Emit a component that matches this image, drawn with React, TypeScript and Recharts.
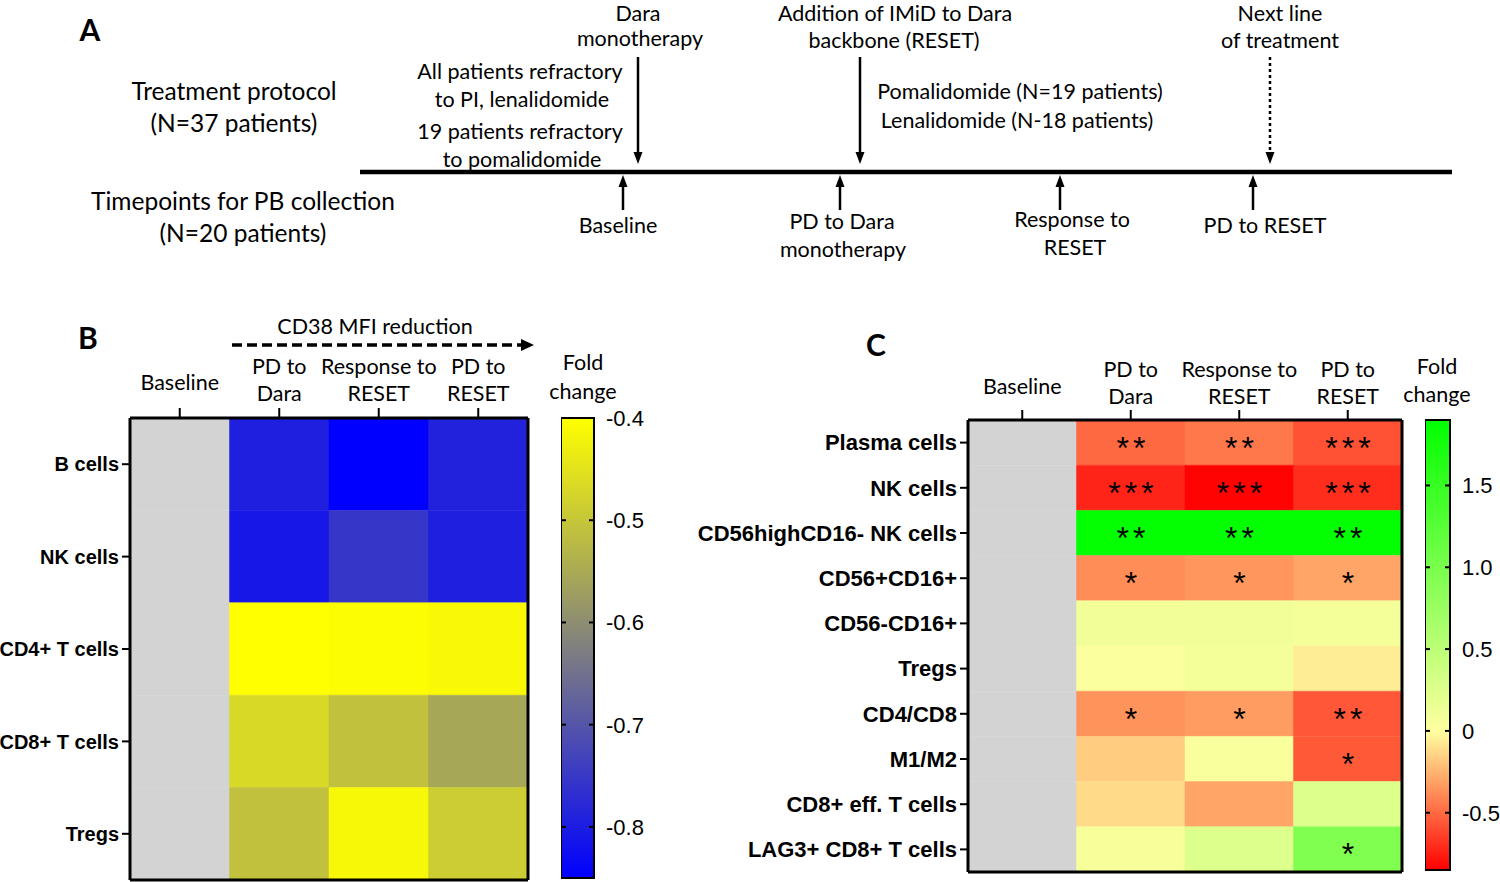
import React from "react";
import {
  Bar,
  BarChart,
  Cell,
  ComposedChart,
  LabelList,
  ReferenceLine,
  Scatter,
  XAxis,
  YAxis,
} from "recharts";

const columns = ["Baseline", "PD to Dara", "Response to RESET", "PD to RESET"];
const columnLines = [["Baseline"], ["PD to", "Dara"], ["Response to", "RESET"], ["PD to", "RESET"]];

// panel B: CD38 MFI fold change (PD to Dara, Response to RESET, PD to RESET)
const rowsB = ["B cells", "NK cells", "CD4+ T cells", "CD8+ T cells", "Tregs"];
const foldB = [
  [-0.795, -0.85, -0.79],
  [-0.81, -0.755, -0.795],
  [-0.4, -0.405, -0.41],
  [-0.468, -0.51, -0.555],
  [-0.51, -0.415, -0.49],
];
const ticksB = [-0.4, -0.5, -0.6, -0.7, -0.8];
const tickLabelsB = ["-0.4", "-0.5", "-0.6", "-0.7", "-0.8"];
const scaleB = [
  { v: -0.4, c: "#ffff00" },
  { v: -0.85, c: "#0000ff" },
];

// panel C: immune subsets fold change
const rowsC = [
  "Plasma cells",
  "NK cells",
  "CD56highCD16- NK cells",
  "CD56+CD16+",
  "CD56-CD16+",
  "Tregs",
  "CD4/CD8",
  "M1/M2",
  "CD8+ eff. T cells",
  "LAG3+ CD8+ T cells",
];
const foldC = [
  [-0.5, -0.45, -0.58],
  [-0.73, -0.84, -0.7],
  [1.88, 1.88, 1.87],
  [-0.38, -0.35, -0.3],
  [0.1, 0.1, 0.08],
  [0.03, 0.08, -0.06],
  [-0.36, -0.33, -0.56],
  [-0.17, 0.05, -0.55],
  [-0.12, -0.3, 0.25],
  [0.07, 0.25, 0.95],
];
const starsC = [
  ["**", "**", "***"],
  ["***", "***", "***"],
  ["**", "**", "**"],
  ["*", "*", "*"],
  ["", "", ""],
  ["", "", ""],
  ["*", "*", "**"],
  ["", "", "*"],
  ["", "", ""],
  ["", "", "*"],
];
const ticksC = [1.5, 1.0, 0.5, 0, -0.5];
const tickLabelsC = ["1.5", "1.0", "0.5", "0", "-0.5"];
const scaleC = [
  { v: 1.9, c: "#00ff00" },
  { v: 0, c: "#ffffa0" },
  { v: -0.85, c: "#ff0000" },
];

// panel A: timeline
const treatmentEvents = [
  { x: 638, dashed: false },
  { x: 860, dashed: false },
  { x: 1270, dashed: true },
];
const collectionPoints = [623, 840, 1060, 1253];

const GRAY = "#d3d3d3";
const SANS = "Lato, 'Open Sans', sans-serif";
const ARIAL = "'Liberation Sans', Arial, sans-serif";

type Stop = { v: number; c: string };

function hex(c: string) {
  return [1, 3, 5].map((i) => parseInt(c.slice(i, i + 2), 16));
}

function colorAt(stops: Stop[], v: number) {
  const s = [...stops].sort((a, b) => a.v - b.v);
  if (v <= s[0].v) return s[0].c;
  if (v >= s[s.length - 1].v) return s[s.length - 1].c;
  for (let i = 0; i < s.length - 1; i++) {
    if (v >= s[i].v && v <= s[i + 1].v) {
      const t = (v - s[i].v) / (s[i + 1].v - s[i].v);
      const a = hex(s[i].c);
      const b = hex(s[i + 1].c);
      const m = a.map((x, k) => Math.round(x + (b[k] - x) * t));
      return `rgb(${m[0]},${m[1]},${m[2]})`;
    }
  }
  return s[0].c;
}

type HeatmapProps = {
  rows: string[];
  fold: number[][];
  stars?: string[][];
  stops: Stop[];
  left: number;
  top: number;
  width: number;
  height: number;
  yAxisWidth: number;
  xAxisHeight: number;
  rightPad: number;
  bottomPad: number;
  rowFont: number;
  labelDy: number[];
};

function Heatmap(p: HeatmapProps) {
  const data = columns.map((col) => {
    const o: Record<string, any> = { col };
    p.rows.forEach((_, i) => (o["r" + i] = 1));
    return o;
  });

  const colTick = (t: any) => {
    const lines = columnLines[t.index] || [t.payload.value];
    const dys = lines.length === 1 ? [p.labelDy[2]] : [p.labelDy[0], p.labelDy[1]];
    return (
      <g>
        {lines.map((l, i) => (
          <text
            key={i}
            x={t.x}
            y={t.y + dys[i]}
            textAnchor="middle"
            fontFamily={SANS}
            fontSize={21.5}
            fill="#000"
          >
            {l}
          </text>
        ))}
      </g>
    );
  };

  return (
    <div style={{ position: "absolute", left: p.left, top: p.top }}>
      <BarChart
        width={p.width}
        height={p.height}
        data={data}
        margin={{ top: 0, right: 0, bottom: 0, left: 0 }}
        barCategoryGap={0}
        barGap={0}
      >
        <XAxis
          dataKey="col"
          orientation="top"
          height={p.xAxisHeight}
          tickSize={10}
          tickLine={{ stroke: "#000", strokeWidth: 2 }}
          axisLine={{ stroke: "#000", strokeWidth: 3 }}
          tick={colTick}
          interval={0}
        />
        <XAxis
          xAxisId="b"
          dataKey="col"
          orientation="bottom"
          height={p.bottomPad}
          tick={false}
          tickLine={false}
          axisLine={{ stroke: "#000", strokeWidth: 3 }}
        />
        <YAxis
          type="number"
          domain={[0, p.rows.length]}
          reversed
          width={p.yAxisWidth}
          ticks={p.rows.map((_, i) => i + 0.5)}
          tickFormatter={(v: number) => p.rows[Math.floor(v)]}
          tickSize={8}
          tickMargin={3}
          tickLine={{ stroke: "#000", strokeWidth: 2 }}
          axisLine={{ stroke: "#000", strokeWidth: 3 }}
          tick={{ fontSize: p.rowFont, fontWeight: 700, fill: "#000", fontFamily: ARIAL }}
          interval={0}
        />
        <YAxis
          yAxisId="r"
          type="number"
          domain={[0, p.rows.length]}
          orientation="right"
          width={p.rightPad}
          tick={false}
          tickLine={false}
          axisLine={{ stroke: "#000", strokeWidth: 3 }}
        />
        {p.rows.map((r, ri) => (
          <Bar key={r} dataKey={"r" + ri} stackId="s" isAnimationActive={false}>
            {columns.map((c, ci) => (
              <Cell
                key={c}
                fill={ci === 0 ? GRAY : colorAt(p.stops, p.fold[ri][ci - 1])}
                stroke={ci === 0 ? GRAY : colorAt(p.stops, p.fold[ri][ci - 1])}
                strokeWidth={0.5}
              />
            ))}
            {p.stars && (
              <LabelList
                dataKey={"r" + ri}
                content={(l: any) => {
                  const s = l.index > 0 ? p.stars![ri][l.index - 1] : "";
                  if (!s) return null;
                  return (
                    <text
                      x={l.x + l.width / 2 + 2}
                      y={l.y + l.height / 2 + 16}
                      textAnchor="middle"
                      fontFamily={ARIAL}
                      fontSize={32}
                      letterSpacing={4}
                      fill="#000"
                    >
                      {s}
                    </text>
                  );
                }}
              />
            )}
          </Bar>
        ))}
      </BarChart>
    </div>
  );
}

type ColorBarProps = {
  id: string;
  stops: Stop[];
  ticks: number[];
  labels: string[];
  left: number;
  top: number;
  barWidth: number;
  height: number;
};

function ColorBar(p: ColorBarProps) {
  const vals = p.stops.map((s) => s.v);
  const max = Math.max(...vals);
  const min = Math.min(...vals);
  const data = [{ k: "bar", range: [min, max] }];
  const labelW = 60;
  const pad = 16;
  return (
    <div style={{ position: "absolute", left: p.left, top: p.top - pad }}>
      <BarChart
        width={p.barWidth + labelW}
        height={p.height + pad * 2}
        data={data}
        margin={{ top: pad, right: 0, bottom: pad, left: 0 }}
        barCategoryGap={0}
      >
        <defs>
          <linearGradient id={p.id} x1="0" y1="0" x2="0" y2="1">
            {[...p.stops]
              .sort((a, b) => b.v - a.v)
              .map((s) => (
                <stop key={s.v} offset={(max - s.v) / (max - min)} stopColor={s.c} />
              ))}
          </linearGradient>
        </defs>
        <XAxis dataKey="k" hide />
        <YAxis
          type="number"
          domain={[min, max]}
          orientation="right"
          width={labelW}
          ticks={p.ticks}
          interval={0}
          axisLine={false}
          tickLine={false}
          tickSize={0}
          tickMargin={0}
          tick={(t: any) => (
            <g>
              <line x1={t.x - p.barWidth} x2={t.x - p.barWidth + 5} y1={t.y} y2={t.y} stroke="#000" strokeWidth={2} />
              <line x1={t.x - 5} x2={t.x} y1={t.y} y2={t.y} stroke="#000" strokeWidth={2} />
              <text x={t.x + 12} y={t.y + 8} fontFamily={ARIAL} fontSize={22} fill="#000">
                {p.labels[p.ticks.indexOf(t.payload.value)]}
              </text>
            </g>
          )}
        />
        <Bar dataKey="range" fill={`url(#${p.id})`} stroke="#000" strokeWidth={2} isAnimationActive={false} />
      </BarChart>
    </div>
  );
}

function Timeline() {
  const lineY = 172;
  const heads = [
    ...treatmentEvents.map((e) => ({ x: e.x, y: lineY - 8, dir: "down" })),
    ...collectionPoints.map((x) => ({ x, y: lineY + 3, dir: "up" })),
  ];
  return (
    <div style={{ position: "absolute", left: 0, top: 0 }}>
      <ComposedChart width={1500} height={290} margin={{ top: 0, right: 0, bottom: 0, left: 0 }}>
        <XAxis type="number" dataKey="x" domain={[0, 1500]} hide />
        <YAxis type="number" dataKey="y" domain={[0, 290]} reversed hide />
        <ReferenceLine
          segment={[
            { x: 360, y: lineY },
            { x: 1452, y: lineY },
          ]}
          stroke="#000"
          strokeWidth={4.5}
        />
        {treatmentEvents.map((e) => (
          <ReferenceLine
            key={e.x}
            segment={[
              { x: e.x, y: 57 },
              { x: e.x, y: lineY - 16 },
            ]}
            stroke="#000"
            strokeWidth={2.5}
            strokeDasharray={e.dashed ? "3 3" : undefined}
          />
        ))}
        {collectionPoints.map((x) => (
          <ReferenceLine
            key={x}
            segment={[
              { x, y: lineY + 12 },
              { x, y: 210 },
            ]}
            stroke="#000"
            strokeWidth={2.5}
          />
        ))}
        <Scatter
          data={heads}
          isAnimationActive={false}
          shape={(s: any) => {
            const { cx, cy } = s;
            const d = s.payload.dir === "down" ? -1 : 1;
            return (
              <polygon
                points={`${cx},${cy} ${cx - 4.5},${cy + d * 12} ${cx + 4.5},${cy + d * 12}`}
                fill="#000"
              />
            );
          }}
        />
      </ComposedChart>
    </div>
  );
}

function Annotations() {
  const t = (x: number, y: number, s: string, size = 22, extra: any = {}) => (
    <text x={x} y={y} textAnchor="middle" fontFamily={SANS} fontSize={size} fill="#000" {...extra}>
      {s}
    </text>
  );
  return (
    <svg
      width={1500}
      height={882}
      style={{ position: "absolute", left: 0, top: 0, pointerEvents: "none" }}
    >
      {t(90, 41, "A", 30, { fontWeight: 700 })}
      {t(88, 349, "B", 30, { fontWeight: 700 })}
      {t(876, 356, "C", 30, { fontWeight: 700 })}

      {t(234, 100, "Treatment protocol", 24.5)}
      {t(234, 132, "(N=37 patients)", 24.5)}
      {t(243, 210, "Timepoints for PB collection", 24.5)}
      {t(243, 242, "(N=20 patients)", 24.5)}

      {t(638, 21, "Dara", 21.5)}
      {t(640, 46, "monotherapy", 21.5)}
      {t(520, 79, "All patients refractory", 21.5)}
      {t(522, 107, "to PI, lenalidomide", 21.5)}
      {t(520, 139, "19 patients refractory", 21.5)}
      {t(522, 167, "to pomalidomide", 21.5)}
      {t(895, 21, "Addition of IMiD to Dara", 21.5)}
      {t(894, 48, "backbone (RESET)", 21.5)}
      {t(1020, 99, "Pomalidomide (N=19 patients)", 21.5)}
      {t(1017, 128, "Lenalidomide (N-18 patients)", 21.5)}
      {t(1280, 21, "Next line", 21.5)}
      {t(1280, 48, "of treatment", 21.5)}

      {t(618, 233, "Baseline", 21.5)}
      {t(842, 229, "PD to Dara", 21.5)}
      {t(843, 257, "monotherapy", 21.5)}
      {t(1072, 227, "Response to", 21.5)}
      {t(1075, 255, "RESET", 21.5)}
      {t(1265, 233, "PD to RESET", 21.5)}

      {t(375, 334, "CD38 MFI reduction", 21.5)}
      <line x1={232} x2={522} y1={345} y2={345} stroke="#000" strokeWidth={3.5} strokeDasharray="10 5" />
      <polygon points="534,345 521,339 521,351" fill="#000" />

      {t(583, 370, "Fold", 21.5)}
      {t(583, 399, "change", 21.5)}
      {t(1437, 374, "Fold", 21.5)}
      {t(1437, 402, "change", 21.5)}
    </svg>
  );
}

export default function App() {
  return (
    <div style={{ position: "absolute", left: 0, top: 0, width: 1500, height: 882, background: "#fff", overflow: "hidden" }}>
      <Timeline />
      <Heatmap
        rows={rowsB}
        fold={foldB}
        stops={scaleB}
        left={0}
        top={300}
        width={540}
        height={584}
        yAxisWidth={130}
        xAxisHeight={118}
        rightPad={12}
        bottomPad={4}
        rowFont={20}
        labelDy={[-32, -5, -16]}
      />
      <ColorBar id="gradB" stops={scaleB} ticks={ticksB} labels={tickLabelsB} left={561} top={418} barWidth={33} height={460} />
      <Heatmap
        rows={rowsC}
        fold={foldC}
        stars={starsC}
        stops={scaleC}
        left={650}
        top={300}
        width={770}
        height={580}
        yAxisWidth={318}
        xAxisHeight={120}
        rightPad={18}
        bottomPad={8}
        rowFont={22}
        labelDy={[-31, -4, -14]}
      />
      <ColorBar id="gradC" stops={scaleC} ticks={ticksC} labels={tickLabelsC} left={1425} top={420} barWidth={25} height={450} />
      <Annotations />
    </div>
  );
}
